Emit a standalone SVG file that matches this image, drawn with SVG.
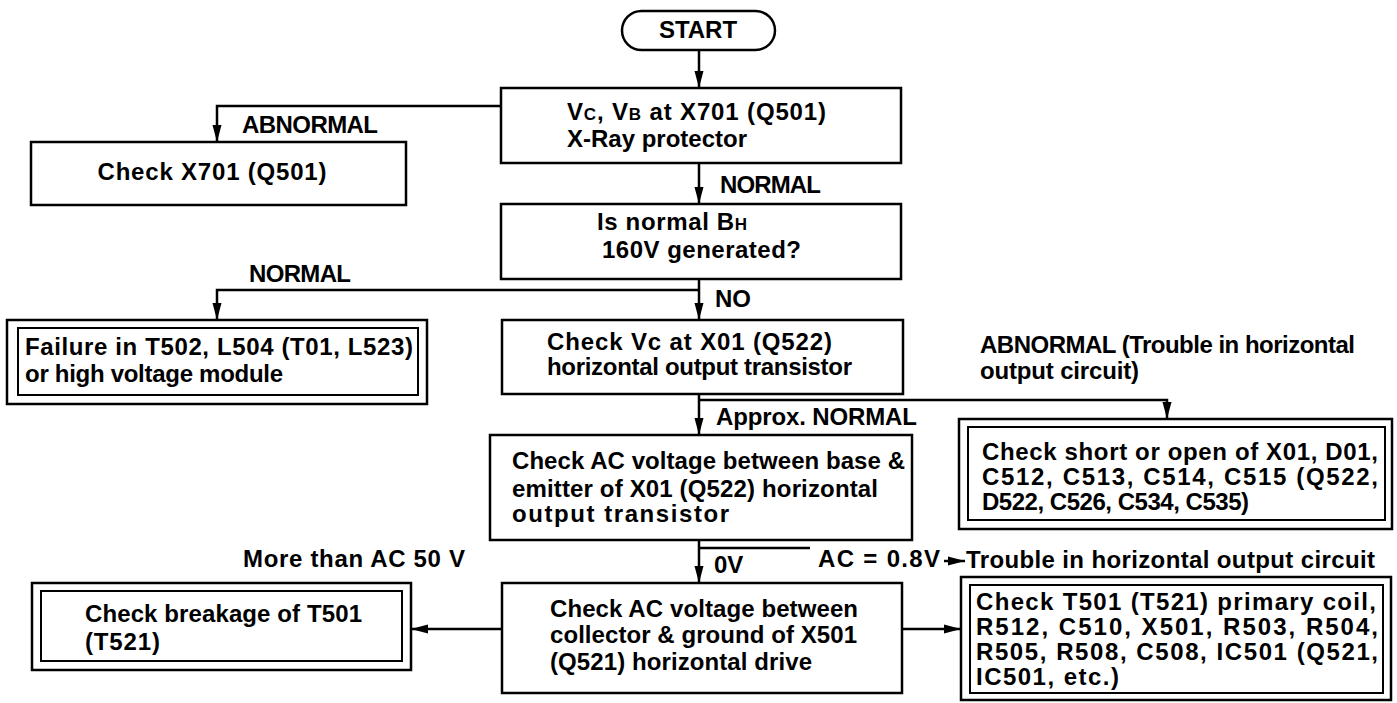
<svg xmlns="http://www.w3.org/2000/svg" width="1397" height="703" viewBox="0 0 1397 703">
<style>
  text { font-family: "Liberation Sans", Arial, sans-serif; font-weight: bold; font-size: 24px; fill: #000; }
  .box { fill: #fff; stroke: #000; stroke-width: 2.5; }
  .inner { fill: none; stroke: #000; stroke-width: 2; }
  .wire { fill: none; stroke: #000; stroke-width: 2.5; }
  .arr { marker-end: url(#ah); }
  .sc { font-size: 17px; }
</style>
<defs>
  <marker id="ah" markerUnits="userSpaceOnUse" markerWidth="18" markerHeight="10" refX="17" refY="5" orient="auto">
    <path d="M0,0.5 L17,5 L0,9.5 z" fill="#000"/>
  </marker>
</defs>
<rect width="1397" height="703" fill="#fff"/>

<g id="connectors">
  <path class="wire arr" d="M699,50 V88"/>
  <path class="wire arr" d="M501,106 H217 V142"/>
  <path class="wire arr" d="M699,163 V204"/>
  <path class="wire arr" d="M699,279 V320"/>
  <path class="wire arr" d="M699,290 H217 V320"/>
  <path class="wire arr" d="M699,394 V435"/>
  <path class="wire arr" d="M699,400 H1167 V419"/>
  <path class="wire arr" d="M699,540 V583"/>
  <path class="wire" d="M699,548 H810"/>
  <path class="wire arr" d="M944,561 H965"/>
  <path class="wire arr" d="M502,629 H411"/>
  <path class="wire arr" d="M902,629 H961"/>
</g>

<g id="labels">
  <text x="242" y="133" textLength="136" lengthAdjust="spacing">ABNORMAL</text>
  <text x="720" y="193" textLength="101" lengthAdjust="spacing">NORMAL</text>
  <text x="249" y="282" textLength="102" lengthAdjust="spacing">NORMAL</text>
  <text x="715" y="307">NO</text>
  <text x="716" y="425" textLength="201" lengthAdjust="spacing">Approx. NORMAL</text>
  <text x="980" y="353" textLength="375" lengthAdjust="spacing">ABNORMAL (Trouble in horizontal</text>
  <text x="980" y="379" textLength="159" lengthAdjust="spacing">output circuit)</text>
  <text x="714" y="573">0V</text>
  <text x="818" y="567" textLength="122" lengthAdjust="spacing">AC = 0.8V</text>
  <text x="966" y="568" textLength="409" lengthAdjust="spacing">Trouble in horizontal output circuit</text>
  <text x="243" y="567" textLength="222" lengthAdjust="spacing">More than AC 50 V</text>
</g>

<g id="start">
  <rect class="box" x="622" y="11" width="153" height="39" rx="19.5"/>
  <text x="698" y="38" text-anchor="middle">START</text>
</g>

<g id="xray-check">
  <rect class="box" x="501" y="88" width="400" height="75"/>
  <text x="567" y="120" textLength="259" lengthAdjust="spacing">V<tspan class="sc">C</tspan>, V<tspan class="sc">B</tspan> at X701 (Q501)</text>
  <text x="567" y="147" textLength="180" lengthAdjust="spacing">X-Ray protector</text>
</g>

<g id="check-x701">
  <rect class="box" x="31" y="142" width="375" height="63"/>
  <text x="212" y="180" text-anchor="middle" textLength="229" lengthAdjust="spacing">Check X701 (Q501)</text>
</g>

<g id="bh-check">
  <rect class="box" x="501" y="204" width="400" height="75"/>
  <text x="597" y="230" textLength="150" lengthAdjust="spacing">Is normal B<tspan class="sc">H</tspan></text>
  <text x="602" y="258" textLength="199" lengthAdjust="spacing">160V generated?</text>
</g>

<g id="failure">
  <rect class="box" x="7" y="320" width="420" height="84"/>
  <rect class="inner" x="18" y="328" width="400" height="67"/>
  <text x="25" y="355" textLength="388" lengthAdjust="spacing">Failure in T502, L504 (T01, L523)</text>
  <text x="25" y="382" textLength="258" lengthAdjust="spacing">or high voltage module</text>
</g>

<g id="vc-check">
  <rect class="box" x="502" y="320" width="401" height="74"/>
  <text x="547" y="350" textLength="285" lengthAdjust="spacing">Check Vc at X01 (Q522)</text>
  <text x="547" y="375" textLength="305" lengthAdjust="spacing">horizontal output transistor</text>
</g>

<g id="short-open">
  <rect class="box" x="959" y="419" width="433" height="110"/>
  <rect class="inner" x="968" y="427" width="417" height="93"/>
  <text x="982" y="460" textLength="396" lengthAdjust="spacing">Check short or open of X01, D01,</text>
  <text x="982" y="485" textLength="396" lengthAdjust="spacing">C512, C513, C514, C515 (Q522,</text>
  <text x="982" y="510" textLength="267" lengthAdjust="spacing">D522, C526, C534, C535)</text>
</g>

<g id="base-emitter">
  <rect class="box" x="490" y="435" width="422" height="105"/>
  <text x="512" y="469" textLength="393" lengthAdjust="spacing">Check AC voltage between base &amp;</text>
  <text x="512" y="497" textLength="366" lengthAdjust="spacing">emitter of X01 (Q522) horizontal</text>
  <text x="512" y="522" textLength="217" lengthAdjust="spacing">output transistor</text>
</g>

<g id="collector-ground">
  <rect class="box" x="502" y="583" width="400" height="110"/>
  <text x="550" y="617" textLength="308" lengthAdjust="spacing">Check AC voltage between</text>
  <text x="550" y="643" textLength="307" lengthAdjust="spacing">collector &amp; ground of X501</text>
  <text x="550" y="670" textLength="262" lengthAdjust="spacing">(Q521) horizontal drive</text>
</g>

<g id="breakage">
  <rect class="box" x="32" y="583" width="379" height="87"/>
  <rect class="inner" x="41" y="591" width="361" height="70"/>
  <text x="85" y="622" textLength="277" lengthAdjust="spacing">Check breakage of T501</text>
  <text x="85" y="650" textLength="75" lengthAdjust="spacing">(T521)</text>
</g>

<g id="primary-coil">
  <rect class="box" x="961" y="577" width="430" height="123"/>
  <rect class="inner" x="970" y="585" width="413" height="108"/>
  <text x="976" y="610" textLength="400" lengthAdjust="spacing">Check T501 (T521) primary coil,</text>
  <text x="976" y="635" textLength="402" lengthAdjust="spacing">R512, C510, X501, R503, R504,</text>
  <text x="976" y="660" textLength="402" lengthAdjust="spacing">R505, R508, C508, IC501 (Q521,</text>
  <text x="976" y="685" textLength="143" lengthAdjust="spacing">IC501, etc.)</text>
</g>
</svg>
